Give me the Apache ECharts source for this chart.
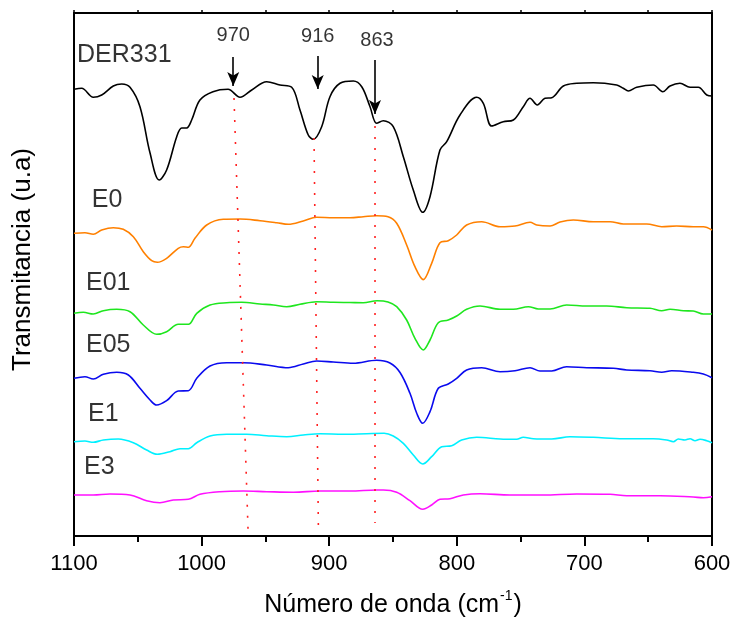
<!DOCTYPE html>
<html>
<head>
<meta charset="utf-8">
<script src="https://cdn.jsdelivr.net/npm/echarts@6/dist/echarts.min.js"></script>
<style>html,body{margin:0;padding:0;background:#fff}#c{width:732px;height:622px}</style>
</head>
<body>
<div id="c"></div>
<script>
// wavenumber (cm-1), transmittance (arbitrary units, stacked offsets)
const der331 = [[1100,446.7],[1094.0,447.7],[1084.9,438.7],[1078.3,441],[1069.2,450],[1062.6,452],[1056.1,448.7],[1048.3,429.3],[1040.4,383],[1033.2,356],[1027.4,366],[1019.5,399.3],[1015.6,408],[1011.7,408],[1007.8,416],[1001.3,436],[991.1,444.3],[979.3,446.7],[969.9,438.7],[960.7,446],[949.0,454.3],[938.6,451],[929.4,448.7],[922.9,426],[916.4,401],[912.5,396.7],[905.9,409.3],[899.4,439.3],[891.5,452.7],[881.1,455],[874.5,449.3],[868.0,429.3],[862.8,412.7],[857.6,415.3],[849.8,409.3],[841.9,379.3],[834.1,346],[826.7,323.7],[821.0,339.3],[813.2,386],[807.9,394.3],[797.5,421],[784.4,438.7],[779.2,432.7],[772.6,410],[763.6,414.3],[755.7,416],[747.9,429.3],[742.6,437.7],[736.9,431],[730.9,437.7],[725.6,438.3],[716.5,450],[706.0,452.7],[693.0,453.3],[674.7,451],[669.5,447.7],[665.6,445],[659.0,448.7],[646.0,451],[638.6,444.3],[632.9,450],[625.1,452.7],[617.2,448.7],[610.7,448.7],[604.1,441],[600,440]];
const e0 = [[1100,302.7],[1091.4,303.3],[1084.9,301.7],[1078.3,306],[1069.2,308.3],[1061.4,306.7],[1053.5,299.3],[1045.7,284.3],[1039.1,275.3],[1034.7,273.7],[1027.4,277.7],[1018.3,287.7],[1014.3,289.3],[1010.4,288.7],[1005.2,297.7],[996.0,311],[983.0,316.7],[969.9,317],[954.2,315.3],[941.1,313.3],[932.1,311.7],[920.3,315],[909.8,318.7],[896.8,318.3],[883.7,318.3],[873.3,319.3],[862.8,320.3],[853.9,319.3],[847.1,312.7],[839.3,291],[832.8,269.3],[826.3,256.4],[819.7,272.7],[813.2,293.3],[806.7,295.3],[800.1,301],[792.3,311],[780.5,314.3],[766.1,309.3],[754.4,310],[742.6,313.7],[737.4,311],[726.9,310],[719.1,314],[708.7,316],[693.0,314.3],[679.9,314.3],[669.5,312],[651.2,312],[639.4,309.3],[627.7,310],[614.7,309.3],[606.8,309.3],[600,306]];
const e01 = [[1100,222.7],[1092.7,223.7],[1084.9,222],[1077.0,225.3],[1066.5,226.7],[1056.1,224.3],[1045.7,211],[1035.2,201.7],[1027.4,204.3],[1018.3,211.7],[1010.4,211.7],[1003.8,222.7],[993.4,231],[980.3,233.3],[968.6,233.7],[954.2,232],[943.8,231],[933.3,229.3],[922.9,231.7],[909.8,234.3],[896.8,233.7],[883.7,233.5],[873.3,233.3],[862.5,235.2],[853.9,234],[847.1,229.3],[839.3,216],[832.8,197.7],[826.3,186],[821.0,196],[814.5,213.3],[806.7,216],[800.1,220],[792.3,226.7],[781.8,230],[766.1,226.7],[755.7,226.7],[743.9,229.3],[736.1,227],[726.9,227],[713.9,231],[698.2,230],[682.5,230],[666.8,228.3],[648.6,227.7],[639.4,225.3],[632.9,226.7],[622.5,225.3],[614.7,225],[606.8,222],[600,222]];
const e05 = [[1100,157.7],[1091.4,159.3],[1084.9,157],[1077.0,161.7],[1066.5,163.7],[1057.4,161],[1048.3,147.7],[1040.4,136],[1035.2,131],[1027.4,135.3],[1018.3,145],[1010.4,145.3],[1003.8,157.7],[993.4,170],[980.3,173.3],[967.3,173.3],[949.0,171],[932.1,168.3],[920.3,172],[909.8,175],[896.8,174],[881.1,172.7],[862.8,175.7],[852.4,173],[844.5,163.5],[836.7,142.7],[831.4,122.7],[826.7,112.7],[821.0,124.3],[814.5,147.7],[806.7,152],[800.1,157.7],[792.3,166],[780.5,168.3],[766.1,164.3],[754.4,165.3],[742.6,168.3],[734.8,165],[725.6,165],[713.9,169.3],[698.2,168.3],[677.3,167.7],[666.8,166],[648.6,165.3],[639.4,163.7],[631.6,165.3],[614.7,163.7],[606.8,162],[600,158.3]];
const e1 = [[1100,94.3],[1091.4,95],[1084.9,93.7],[1077.0,96],[1065.3,97],[1053.5,93.3],[1043.1,86],[1034.7,81.7],[1024.8,84.3],[1016.9,87.3],[1010.4,87.3],[1003.8,93.3],[993.4,100],[980.3,101.7],[964.7,101.7],[949.0,100.3],[933.3,99.3],[920.3,101],[907.2,102.3],[888.9,101.7],[870.6,102.3],[857.0,102.7],[849.8,100],[841.9,92.7],[834.1,81],[826.7,72],[819.7,79.3],[811.8,89.3],[804.0,90.3],[796.2,96],[784.4,98.7],[766.1,97],[753.1,96.7],[747.9,98.7],[740.0,97.3],[725.6,97],[711.3,99.3],[693.0,98.7],[669.5,97.3],[646.0,97.3],[635.5,96],[630.3,94.3],[626.4,97],[621.2,96],[617.2,97.3],[613.3,95.3],[609.4,96.7],[604.1,95.3],[600,93.3]];
const e3 = [[1100,41],[1084.9,41],[1071.8,42],[1056.1,41],[1043.1,35.3],[1032.6,33.3],[1022.2,36],[1010.4,36.7],[1001.3,41.7],[985.6,44.3],[967.3,45],[949.0,44.3],[928.1,43.7],[907.2,45],[883.7,45],[862.8,46],[857.6,46],[847.1,43.7],[836.7,35.3],[826.7,26.7],[819.7,31],[813.2,36.7],[805.3,37.3],[794.9,41],[781.8,42.3],[758.3,41],[732.2,41],[706.0,42],[679.9,41.7],[666.8,40.3],[640.7,40.3],[614.7,39],[606.8,38.3],[600,39.3]];

// dotted guide lines (start, end)
const guide970 = [[974.6,438],[963.6,6]];
const guide916 = [[911.9,398],[908.5,11]];
const guide863 = [[864.1,410],[864.1,13]];

// arrows (top, tip) and their labels
const arrows = [[[975.2,479],[975.2,450]],[[909.0,480],[909.0,447]],[[864.1,476],[864.1,422]]];
const peakLabels = [[975.2,501,'970'],[909.0,500,'916'],[862.5,496,'863']];

// curve names
const curveLabels = [[1097.6,481,'DER331'],[1086.1,336,'E0'],[1090.6,253,'E01'],[1090.6,191,'E05'],[1089.0,122,'E1'],[1092.2,69,'E3']];

const xTicks = {min:600,max:1100,interval:100};
const FONT = '"Liberation Sans", Arial, sans-serif';

const chart = echarts.init(document.getElementById('c'), null, {renderer:'canvas'});

function curve(name, data, color){
  return {name, type:'line', data, showSymbol:false, symbol:'none', smooth:0.35,
    lineStyle:{color, width:1.6}, z:3, silent:true};
}
function guide(data){
  return {type:'line', data, showSymbol:false, symbol:'none', smooth:false,
    lineStyle:{color:'#ff2020', width:1.6, type:[2,9]}, z:4, silent:true};
}

const option = {
  animation:false,
  backgroundColor:'#fff',
  grid:{left:74, right:20, top:13, bottom:86, containLabel:false, outerBoundsMode:'none'},
  xAxis:[
    {type:'value', min:xTicks.min, max:xTicks.max, interval:xTicks.interval, inverse:true, position:'bottom',
     name:'{a|Número de onda (cm}{s|-1}{a|)}', nameLocation:'middle', nameGap:53,
     nameTextStyle:{rich:{a:{fontFamily:FONT, fontSize:25, color:'#000', verticalAlign:'bottom', lineHeight:29},
                          s:{fontFamily:FONT, fontSize:14, color:'#000', verticalAlign:'top', lineHeight:29, padding:[0,1,12,1]}}},
     axisLine:{show:true, onZero:false, lineStyle:{color:'#000', width:2}},
     axisTick:{show:true, inside:false, length:10, lineStyle:{color:'#000', width:2}},
     minorTick:{show:true, splitNumber:2, length:6, lineStyle:{color:'#000', width:2}},
     axisLabel:{show:true, color:'#000', fontFamily:FONT, fontSize:22, margin:17, formatter:v=>String(v)},
     splitLine:{show:false}, minorSplitLine:{show:false}},
    {type:'value', min:xTicks.min, max:xTicks.max, interval:xTicks.interval, inverse:true, position:'top',
     axisLine:{show:true, onZero:false, lineStyle:{color:'#000', width:2}},
     axisTick:{show:true, inside:false, length:3, lineStyle:{color:'#000', width:1.5}},
     minorTick:{show:true, splitNumber:2, length:3, lineStyle:{color:'#000', width:1.5}},
     axisLabel:{show:false}, splitLine:{show:false}}
  ],
  yAxis:[
    {type:'value', min:0, max:523, position:'left',
     name:'Transmitancia (u.a)', nameLocation:'middle', nameGap:38, nameRotate:90,
     nameTextStyle:{fontFamily:FONT, fontSize:26, color:'#000', padding:[0,0,0,30]},
     axisLine:{show:true, onZero:false, lineStyle:{color:'#000', width:2}},
     axisTick:{show:false}, axisLabel:{show:false}, splitLine:{show:false}},
    {type:'value', min:0, max:523, position:'right',
     axisLine:{show:true, onZero:false, lineStyle:{color:'#000', width:2}},
     axisTick:{show:false}, axisLabel:{show:false}, splitLine:{show:false}}
  ],
  series:[
    guide(guide970), guide(guide916), guide(guide863),
    Object.assign(curve('DER331', der331, '#000000'), {
      markLine:{silent:true, symbol:['none','arrow'], symbolSize:[9,14], label:{show:false},
        lineStyle:{color:'#000', width:1.6, type:'solid'},
        data: arrows.map(a => [{coord:a[0]},{coord:a[1]}])}
    }),
    curve('E0', e0, '#ff8000'),
    curve('E01', e01, '#1ee61e'),
    curve('E05', e05, '#0a0aee'),
    curve('E1', e1, '#00f0ff'),
    curve('E3', e3, '#ff10ff'),
    {type:'scatter', data:peakLabels, symbolSize:0, silent:true, z:5,
     label:{show:true, position:'inside', color:'#000', fontFamily:FONT, fontSize:20, formatter:p=>p.value[2]}},
    {type:'scatter', data:curveLabels, symbolSize:0, silent:true, z:5,
     label:{show:true, position:'right', distance:0, align:'left', color:'#000', fontFamily:FONT, fontSize:25, formatter:p=>p.value[2]}}
  ]
};
chart.setOption(option);
</script>
</body>
</html>
